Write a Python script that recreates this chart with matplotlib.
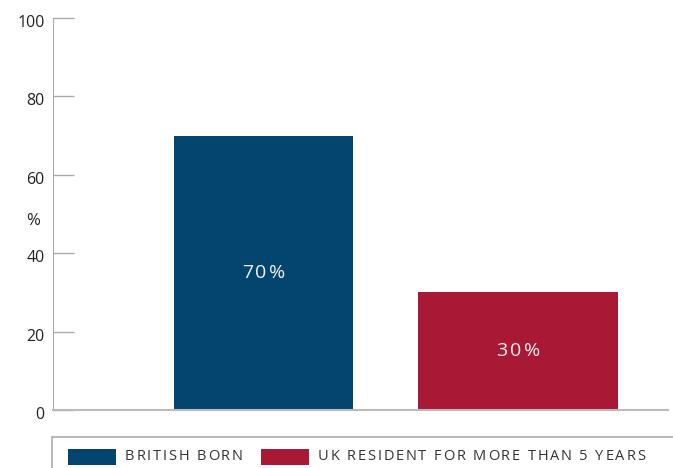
import matplotlib as mpl
mpl.use('Agg')
import matplotlib.pyplot as plt
from matplotlib.patches import Rectangle
from matplotlib.transforms import IdentityTransform, ScaledTranslation

categories = ['BRITISH BORN', 'UK RESIDENT FOR MORE THAN 5 YEARS']
values = [70, 30]
labels = ['70%', '30%']
colors = ['#03456E', '#A91834']
yticks = [0, 20, 40, 60, 80, 100]

W, H = 673, 468
fig = plt.figure(figsize=(W / 100, H / 100), dpi=100)
ax = fig.add_axes([53 / W, 58 / H, 615 / W, 392 / H])
renderer = fig.canvas.get_renderer()


def text_width(s, **kw):
    # width in pixels, '|' trick so trailing spaces count
    t = fig.text(0, 0, s + '|', **kw)
    b = fig.text(0, 0, '|', **kw)
    w = t.get_window_extent(renderer).width - b.get_window_extent(renderer).width
    t.remove()
    b.remove()
    return w


def spaced_text(x, y, s, track, ha='left', **kw):
    # draw s at pixel position (x, y) with extra letter spacing
    total = text_width(s, **kw) + track * (len(s) - 1)
    if ha == 'center':
        x = x - total / 2
    for i, ch in enumerate(s):
        if ch == ' ':
            continue
        xi = x + text_width(s[:i], **kw) + track * i
        fig.text(xi, y, ch, transform=IdentityTransform(), ha='left', va='center', **kw)
    return x + total


pos = [1, 2]
widths = [0.703, 0.786]
ax.bar(pos, values, width=widths, color=colors, zorder=2)

ax.set_xlim(0.173, 2.589)
ax.set_ylim(0, 100)
ax.set_xticks([])
ax.set_yticks(yticks)
ax.set_yticklabels([str(t) for t in yticks], family='Open Sans', fontsize=11.5, color='#222222')
ax.tick_params(axis='y', direction='in', length=15, width=1, color='#aaaaaa', pad=6)
# labels sit a few px below their ticks in the original
offset = ScaledTranslation(0, -3 / 100, fig.dpi_scale_trans)
for lab in ax.get_yticklabels():
    lab.set_transform(lab.get_transform() + offset)
for s in ['top', 'right']:
    ax.spines[s].set_visible(False)
ax.spines['left'].set_color('#aaaaaa')
ax.spines['bottom'].set_color('#bbbbbb')
ax.spines['bottom'].set_linewidth(1.5)
ax.text(-20 / 615, (410 - 221) / 392, '%', transform=ax.transAxes, ha='center', va='center',
        family='Open Sans', fontsize=12, color='#222222')

# value labels inside the bars
for p, v, t in zip(pos, values, labels):
    px, py = ax.transData.transform((p, v / 2))
    spaced_text(px, py, t, 2.5, ha='center', color='#f2f2f2', fontsize=14, family='Open Sans')

# legend box (only top/left show inside the figure)
fig.patches.append(Rectangle((52 / W, -0.1), 1, (H - 437) / H + 0.1,
                             transform=fig.transFigure, fill=False,
                             edgecolor='#aaaaaa', lw=1.2))
x = 68
yc = H - 457
for cat, c in zip(categories, colors):
    fig.patches.append(Rectangle((x, yc - 8), 48, 16, transform=IdentityTransform(),
                                 facecolor=c, edgecolor='none'))
    x = spaced_text(x + 57, yc, cat, 1.85, color='#333333', fontsize=10.5, family='Open Sans') + 18

fig.savefig('out.png', dpi=100)
